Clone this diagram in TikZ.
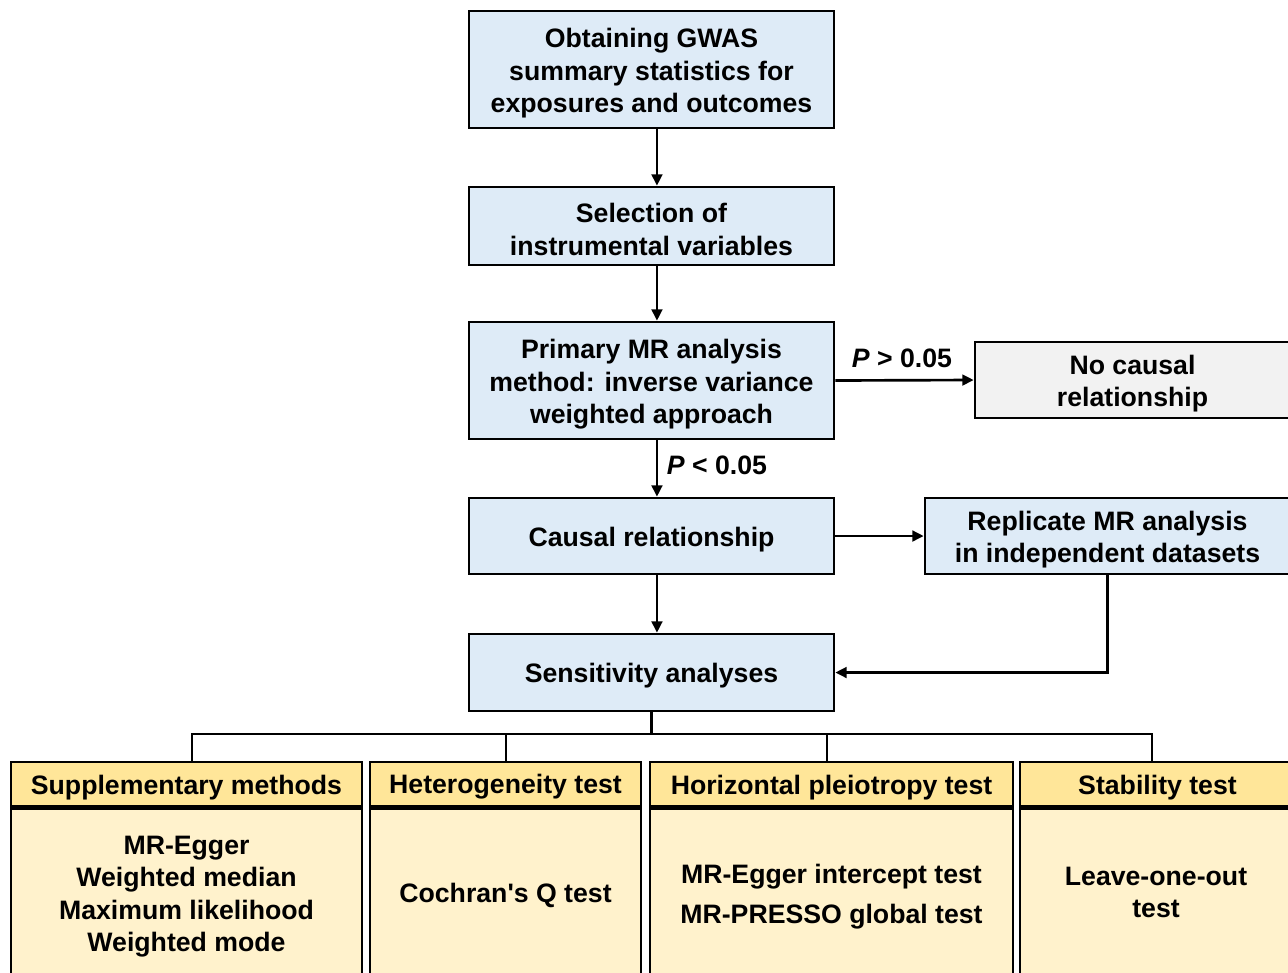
\documentclass[tikz,border=0pt]{standalone}
\usepackage{fontspec}
\setmainfont{Liberation Sans}
\usetikzlibrary{arrows.meta,positioning,calc}
\definecolor{boxblue}{HTML}{DEEBF7}
\definecolor{boxgray}{HTML}{F2F2F2}
\definecolor{headgold}{HTML}{FFE699}
\definecolor{bodygold}{HTML}{FFF2CC}
\newcommand{\dn}{\rule{0pt}{19.2pt}}
\newcommand{\dnm}{\rule{0pt}{20pt}}
\tikzset{
  txt/.style={font=\fontsize{20}{24.4}\selectfont\bfseries, align=center, text=black},
  lowtxt/.style={txt, execute at begin node=\dn},
  base/.style={lowtxt, draw=black, line width=2pt, inner sep=0pt},
  bluebox/.style={base, fill=boxblue, minimum width=273.75pt},
  graybox/.style={base, fill=boxgray},
  headbox/.style={base, fill=headgold, minimum height=33pt},
  bodybox/.style={base, fill=bodygold, minimum height=129.75pt},
  conn/.style={line width=2pt, draw=black},
  arr/.style={conn, -{Triangle[width=8pt,length=8.5pt]}},
}
\begin{document}
\begin{tikzpicture}[x=0.75pt,y=-0.75pt]
\useasboundingbox (0,0) rectangle (1288,972);
\fill[white] (0,0) rectangle (1288,972);

\node[bluebox, minimum height=87.75pt] (b1) at (651.5,69.5) {\dnm Obtaining GWAS\\summary statistics for\\exposures and outcomes};
\node[bluebox, minimum height=58.5pt] (b2) at (651.5,226) {\dnm Selection of\\instrumental variables};
\node[bluebox, minimum height=87.75pt] (b3) at (651.5,380.5) {\dnm Primary MR analysis\\method: inverse variance\\weighted approach};
\node[bluebox, minimum height=57pt] (b4) at (651.5,536) {Causal relationship};
\node[bluebox, minimum height=57.75pt] (b5) at (651.5,672.5) {Sensitivity analyses};
\node[graybox, minimum width=236.25pt, minimum height=57pt] (nc) at (1132.5,380) {\dnm No causal\\relationship};
\node[bluebox, minimum height=57pt] (rep) at (1107.5,536) {\dnm Replicate MR analysis\\in independent datasets};

\draw[arr] ([xshift=4.1pt]b1.south) -- ([xshift=4.1pt]b2.north);
\draw[arr] ([xshift=4.1pt]b2.south) -- ([xshift=4.1pt]b3.north);
\draw[arr] ([xshift=4.1pt]b3.south) -- ([xshift=4.1pt]b4.north);
\draw[arr] ([xshift=4.1pt]b4.south) -- ([xshift=4.1pt]b5.north);
\draw[arr] (b3.east) -- (nc.west);
\draw[arr] (b4.east) -- (rep.west);
\draw[arr] (rep.south) |- (b5.east);

\node[txt] (pgt) at (902,358) {\textit{P} > 0.05};
\node[txt] (plt) at (717,465) {\textit{P} < 0.05};

% bottom boxes
\node[headbox, minimum width=263.25pt] (ha) at (186.5,784) {Supplementary methods};
\node[headbox, minimum width=203.25pt] (hb) at (505.5,784) {Heterogeneity test};
\node[headbox, minimum width=272.25pt] (hc) at (831.5,784) {Horizontal pleiotropy test};
\node[headbox, minimum width=206.25pt] (hd) at (1157.5,784) {Stability test};

\node[bodybox, minimum width=263.25pt, anchor=north] (ba) at (ha.south) {};
\node[bodybox, minimum width=203.25pt, anchor=north] (bb) at (hb.south) {};
\node[bodybox, minimum width=272.25pt, anchor=north] (bc) at (hc.south) {};
\node[bodybox, minimum width=206.25pt, anchor=north] (bd) at (hd.south) {};

\node[lowtxt] (ta) at (186.5,892.5) {\dnm MR-Egger\\Weighted median\\Maximum likelihood\\Weighted mode};
\node[lowtxt] (tb) at (505.5,892) {Cochran\textquotesingle s Q test};
\node[lowtxt] (tc) at (831.5,893) {\dnm MR-Egger intercept test\\[5.6pt]MR-PRESSO global test};
\node[lowtxt] (td) at (1156,892.5) {Leave-one-out\\test};

\coordinate (hub) at (651.5,734);
\draw[conn] (b5.south) -- (hub);
\draw[conn] (192,762) |- (hub) -| (1152,762);
\draw[conn] (506,734) -- (506,762);
\draw[conn] (827,734) -- (827,762);
\end{tikzpicture}
\end{document}
